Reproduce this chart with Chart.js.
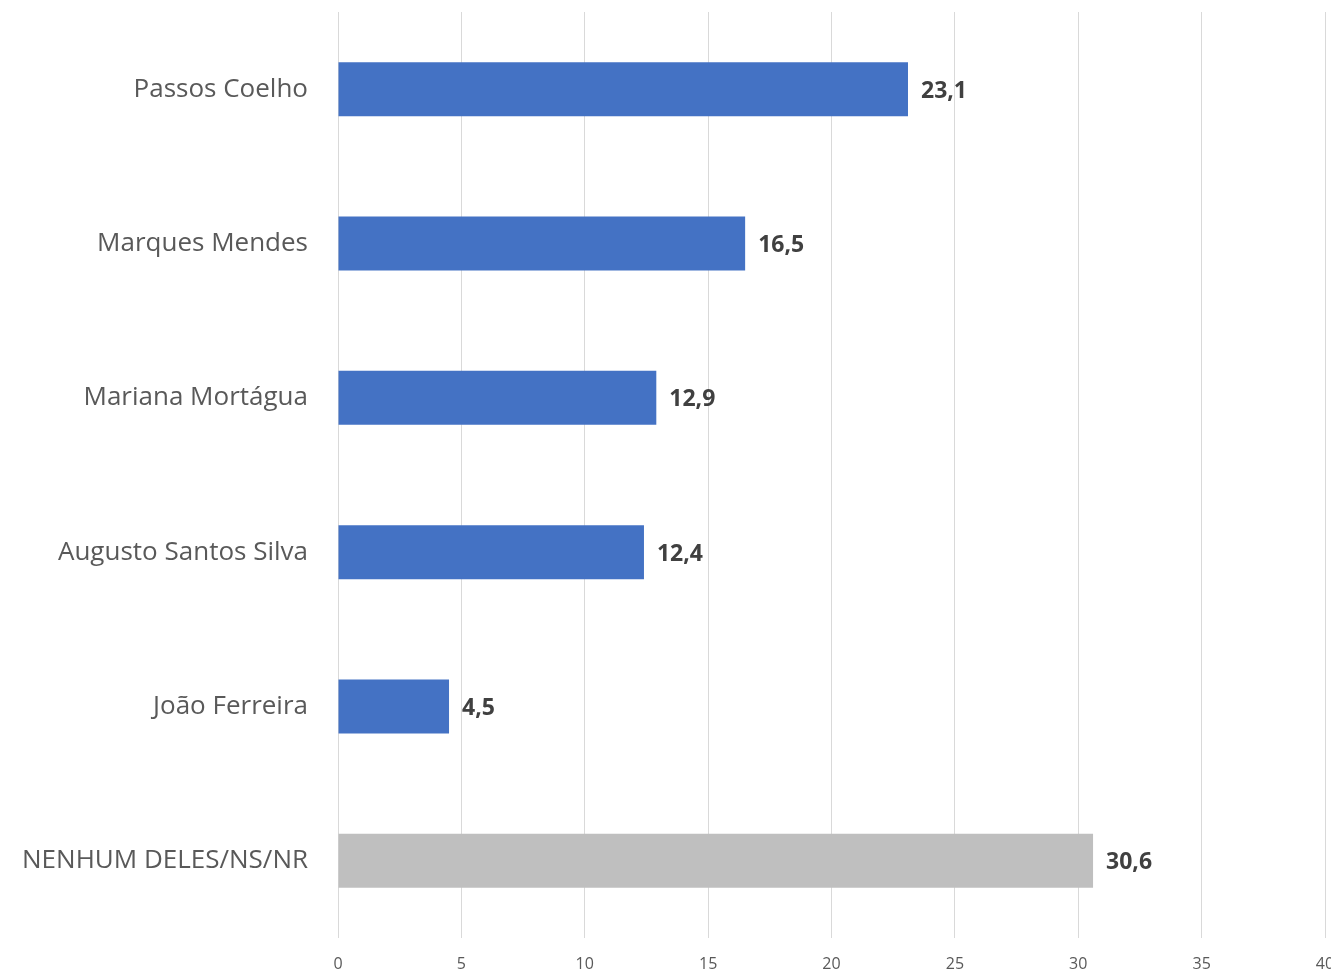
<!DOCTYPE html>
<html>
<head>
<meta charset="utf-8">
<script src="https://cdn.jsdelivr.net/npm/chart.js@4"></script>
<style>
  html, body { margin: 0; padding: 0; background: #fff; overflow: hidden; }
  #wrap { width: 1345px; height: 971px; }
</style>
</head>
<body>
<div id="wrap"><canvas id="chart" width="1345" height="971"></canvas></div>
<script>
// Data
const categories = ['Passos Coelho', 'Marques Mendes', 'Mariana Mortágua', 'Augusto Santos Silva', 'João Ferreira', 'NENHUM DELES/NS/NR'];
const values = [23.1, 16.5, 12.9, 12.4, 4.5, 30.6];
const barColors = ['#4472C4', '#4472C4', '#4472C4', '#4472C4', '#4472C4', '#BFBFBF'];
const xTicks = [0, 5, 10, 15, 20, 25, 30, 35, 40];

const FONT = "'Open Sans', 'Noto Sans', sans-serif";

// draw value labels at the end of each bar
const valueLabels = {
    id: 'valueLabels',
    afterDatasetsDraw(chart) {
        const ctx = chart.ctx;
        const meta = chart.getDatasetMeta(0);
        ctx.save();
        ctx.font = 'bold 23px ' + FONT;
        ctx.fillStyle = '#404040';
        ctx.textAlign = 'left';
        ctx.textBaseline = 'middle';
        meta.data.forEach((bar, i) => {
            ctx.fillText(values[i].toFixed(1).replace('.', ','), bar.x + 13, bar.y + 2);
        });
        ctx.restore();
    }
};

const ctx = document.getElementById('chart').getContext('2d');
new Chart(ctx, {
    type: 'bar',
    data: {
        labels: categories,
        datasets: [{
            data: values,
            backgroundColor: barColors,
            borderWidth: 0,
            barPercentage: 0.7,
            categoryPercentage: 0.5
        }]
    },
    options: {
        indexAxis: 'y',
        responsive: false,
        animation: false,
        layout: { padding: { top: 12, right: 20, left: 0, bottom: 0 } },
        plugins: {
            legend: { display: false },
            tooltip: { enabled: false }
        },
        scales: {
            x: {
                min: 0,
                max: 40,
                afterBuildTicks(scale) {
                    scale.ticks = xTicks.map(v => ({ value: v }));
                },
                grid: { color: '#D9D9D9', lineWidth: 1, drawTicks: false },
                border: { display: false },
                ticks: {
                    color: '#595959',
                    font: { family: FONT, size: 16 },
                    padding: 17,
                    maxRotation: 0
                },
                afterFit(scale) {
                    scale.height = 33;
                    scale.paddingLeft = 0;
                    scale.paddingRight = 0;
                }
            },
            y: {
                grid: { display: false, drawTicks: false },
                border: { display: false },
                ticks: {
                    color: '#595959',
                    font: { family: FONT, size: 26 },
                    padding: 30
                },
                afterFit(scale) {
                    scale.width = 338;
                    scale.paddingTop = 0;
                    scale.paddingBottom = 0;
                }
            }
        }
    },
    plugins: [valueLabels]
});
</script>
</body>
</html>
